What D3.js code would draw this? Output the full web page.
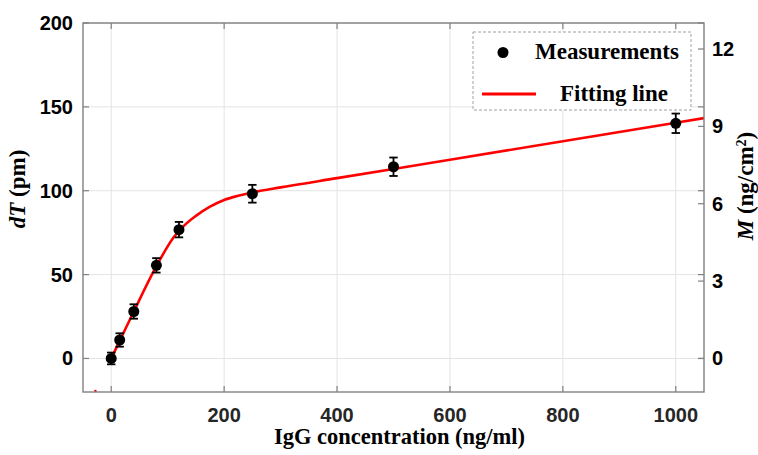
<!DOCTYPE html>
<meta charset="utf-8">
<script src="https://d3js.org/d3.v7.min.js"></script>
<style>
   body {
      background-color: white;
      margin: 0;
      padding: 0;
   }
   .tick-lab {
      font-family: "Liberation Sans", Arial, sans-serif;
      font-weight: bold;
      font-size: 20px;
      fill: #262626;
   }
   .ax-lab {
      font-family: "Liberation Serif", "Times New Roman", serif;
      font-weight: bold;
      font-size: 23px;
      fill: #000;
   }
</style>
<body>
<svg id="chart" width="758" height="455"></svg>
<script>

   // measured points
   var concentration = [0, 15, 40, 80, 120, 250, 500, 1000];
   var dT = [0, 11, 28, 55.5, 76.8, 98.2, 114.3, 140.2];
   var dTerr = [3.5, 4, 4.3, 4.3, 4.6, 5.3, 5.5, 5.8];

   // fitting line
   var fitX = [0, 15, 40, 80, 110, 130, 150, 175, 200, 225, 250, 300, 400, 500, 600, 800, 1000, 1050];
   var fitY = [0, 10.5, 28, 55, 72, 79.5, 85, 90.5, 94.5, 97, 99, 102, 107.5, 113, 118.5, 129.5, 140.5, 143.3];
   // lone red speck at the lower left corner
   var speckX = [-28];
   var speckY = [-20];

   var xTicks = [0, 200, 400, 600, 800, 1000];
   var leftTicks = [0, 50, 100, 150, 200];
   var rightTicks = [0, 3, 6, 9, 12];
   var pmPerMass = 15.375;   // dT (pm) per M (ng/cm2)

   var svg = d3.select("#chart");
   var margin = { left: 83, right: 54, top: 23, bottom: 63 };
   var W = 758, H = 455;
   var x0 = margin.left, x1 = W - margin.right, y0 = margin.top, y1 = H - margin.bottom;

   var x = d3.scaleLinear().domain([-50, 1050]).range([x0, x1]);
   var y = d3.scaleLinear().domain([-20, 200]).range([y1, y0]);
   var yR = d3.scaleLinear().domain([-20 / pmPerMass, 200 / pmPerMass]).range([y1, y0]);

   svg.append("defs").append("clipPath").attr("id", "plotclip")
      .append("rect").attr("x", x0).attr("y", y0).attr("width", x1 - x0).attr("height", y1 - y0);

   // grid
   var grid = svg.append("g");
   grid.selectAll(".gx").data(xTicks).enter().append("line")
      .attr("x1", d => x(d)).attr("x2", d => x(d)).attr("y1", y0).attr("y2", y1)
      .attr("stroke", "#e3e3e3").attr("stroke-width", 1);
   grid.selectAll(".gy").data(leftTicks).enter().append("line")
      .attr("y1", d => y(d)).attr("y2", d => y(d)).attr("x1", x0).attr("x2", x1)
      .attr("stroke", "#e3e3e3").attr("stroke-width", 1);

   // fitting line
   var line = d3.line().x((d, i) => x(fitX[i])).y((d, i) => y(fitY[i])).curve(d3.curveMonotoneX);
   svg.append("path")
      .datum(fitX)
      .attr("d", line)
      .attr("clip-path", "url(#plotclip)")
      .attr("fill", "none")
      .attr("stroke", "#ff0000")
      .attr("stroke-width", 2.6);

   svg.selectAll(".speck").data(speckX).enter().append("circle")
      .attr("cx", (d, i) => x(d)).attr("cy", (d, i) => y(speckY[i]) - 1)
      .attr("r", 1.3).attr("fill", "#ff0000");

   // error bars + markers
   var pts = svg.append("g");
   concentration.forEach(function (c, i) {
      var cx = x(c), top = y(dT[i] + dTerr[i]), bot = y(dT[i] - dTerr[i]);
      pts.append("line").attr("x1", cx).attr("x2", cx).attr("y1", top).attr("y2", bot)
         .attr("stroke", "#000").attr("stroke-width", 1.8);
      pts.append("line").attr("x1", cx - 4.2).attr("x2", cx + 4.2).attr("y1", top).attr("y2", top)
         .attr("stroke", "#000").attr("stroke-width", 1.8);
      pts.append("line").attr("x1", cx - 4.2).attr("x2", cx + 4.2).attr("y1", bot).attr("y2", bot)
         .attr("stroke", "#000").attr("stroke-width", 1.8);
   });
   pts.selectAll("circle").data(concentration).enter().append("circle")
      .attr("cx", d => x(d)).attr("cy", (d, i) => y(dT[i]))
      .attr("r", 5.5).attr("fill", "#000");

   // axes box
   var axCol = "#808080";
   var axes = svg.append("g");
   axes.append("rect").attr("x", x0).attr("y", y0).attr("width", x1 - x0).attr("height", y1 - y0)
      .attr("fill", "none").attr("stroke", axCol).attr("stroke-width", 1.4);

   var tl = 6;
   xTicks.forEach(function (t) {
      axes.append("line").attr("x1", x(t)).attr("x2", x(t)).attr("y1", y1).attr("y2", y1 - tl).attr("stroke", axCol).attr("stroke-width", 1.2);
      axes.append("line").attr("x1", x(t)).attr("x2", x(t)).attr("y1", y0).attr("y2", y0 + tl).attr("stroke", axCol).attr("stroke-width", 1.2);
   });
   leftTicks.forEach(function (t) {
      axes.append("line").attr("x1", x0).attr("x2", x0 + tl).attr("y1", y(t)).attr("y2", y(t)).attr("stroke", axCol).attr("stroke-width", 1.2);
      axes.append("line").attr("x1", x1).attr("x2", x1 - tl).attr("y1", y(t)).attr("y2", y(t)).attr("stroke", axCol).attr("stroke-width", 1.2);
   });
   rightTicks.forEach(function (t) {
      axes.append("line").attr("x1", x1).attr("x2", x1 - tl).attr("y1", yR(t)).attr("y2", yR(t)).attr("stroke", axCol).attr("stroke-width", 1.2);
   });

   // tick labels
   svg.selectAll(".xl").data(xTicks).enter().append("text")
      .attr("class", "tick-lab")
      .attr("x", d => x(d)).attr("y", y1 + 30)
      .attr("text-anchor", "middle")
      .text(d => d);
   svg.selectAll(".yl").data(leftTicks).enter().append("text")
      .attr("class", "tick-lab")
      .attr("x", x0 - 10).attr("y", d => y(d) + 7)
      .attr("text-anchor", "end")
      .style("fill", "#000")
      .text(d => d);
   svg.selectAll(".yr").data(rightTicks).enter().append("text")
      .attr("class", "tick-lab")
      .attr("x", x1 + 8).attr("y", d => yR(d) + 7)
      .attr("text-anchor", "start")
      .style("fill", "#000")
      .text(d => d);

   // axis labels
   svg.append("text").attr("class", "ax-lab")
      .attr("x", (x0 + x1) / 2 + 6).attr("y", 444)
      .attr("text-anchor", "middle")
      .style("font-size", "22.5px")
      .text("IgG concentration (ng/ml)");

   var yl = svg.append("text").attr("class", "ax-lab")
      .attr("transform", "translate(25,189) rotate(-90)")
      .attr("text-anchor", "middle");
   yl.append("tspan").style("font-style", "italic").text("dT");
   yl.append("tspan").text(" (pm)");

   var yr = svg.append("text").attr("class", "ax-lab")
      .attr("transform", "translate(753,186) rotate(-90)")
      .attr("text-anchor", "middle");
   yr.append("tspan").style("font-style", "italic").text("M");
   yr.append("tspan").text(" (ng/cm");
   yr.append("tspan").attr("baseline-shift", "super").style("font-size", "14px").text("2");
   yr.append("tspan").text(")");

   // legend
   var lg = svg.append("g");
   lg.append("rect").attr("x", 473).attr("y", 32).attr("width", 218).attr("height", 78)
      .attr("fill", "#fff").attr("stroke", "#a0a0a0").attr("stroke-width", 1)
      .attr("stroke-dasharray", "3,2");
   lg.append("circle").attr("cx", 503).attr("cy", 52.5).attr("r", 5.5).attr("fill", "#000");
   lg.append("text").attr("class", "ax-lab").attr("x", 535).attr("y", 59).text("Measurements");
   lg.append("line").attr("x1", 482).attr("x2", 536).attr("y1", 94).attr("y2", 94)
      .attr("stroke", "#ff0000").attr("stroke-width", 3);
   lg.append("text").attr("class", "ax-lab").attr("x", 560).attr("y", 101).text("Fitting line");

</script>
</body>
